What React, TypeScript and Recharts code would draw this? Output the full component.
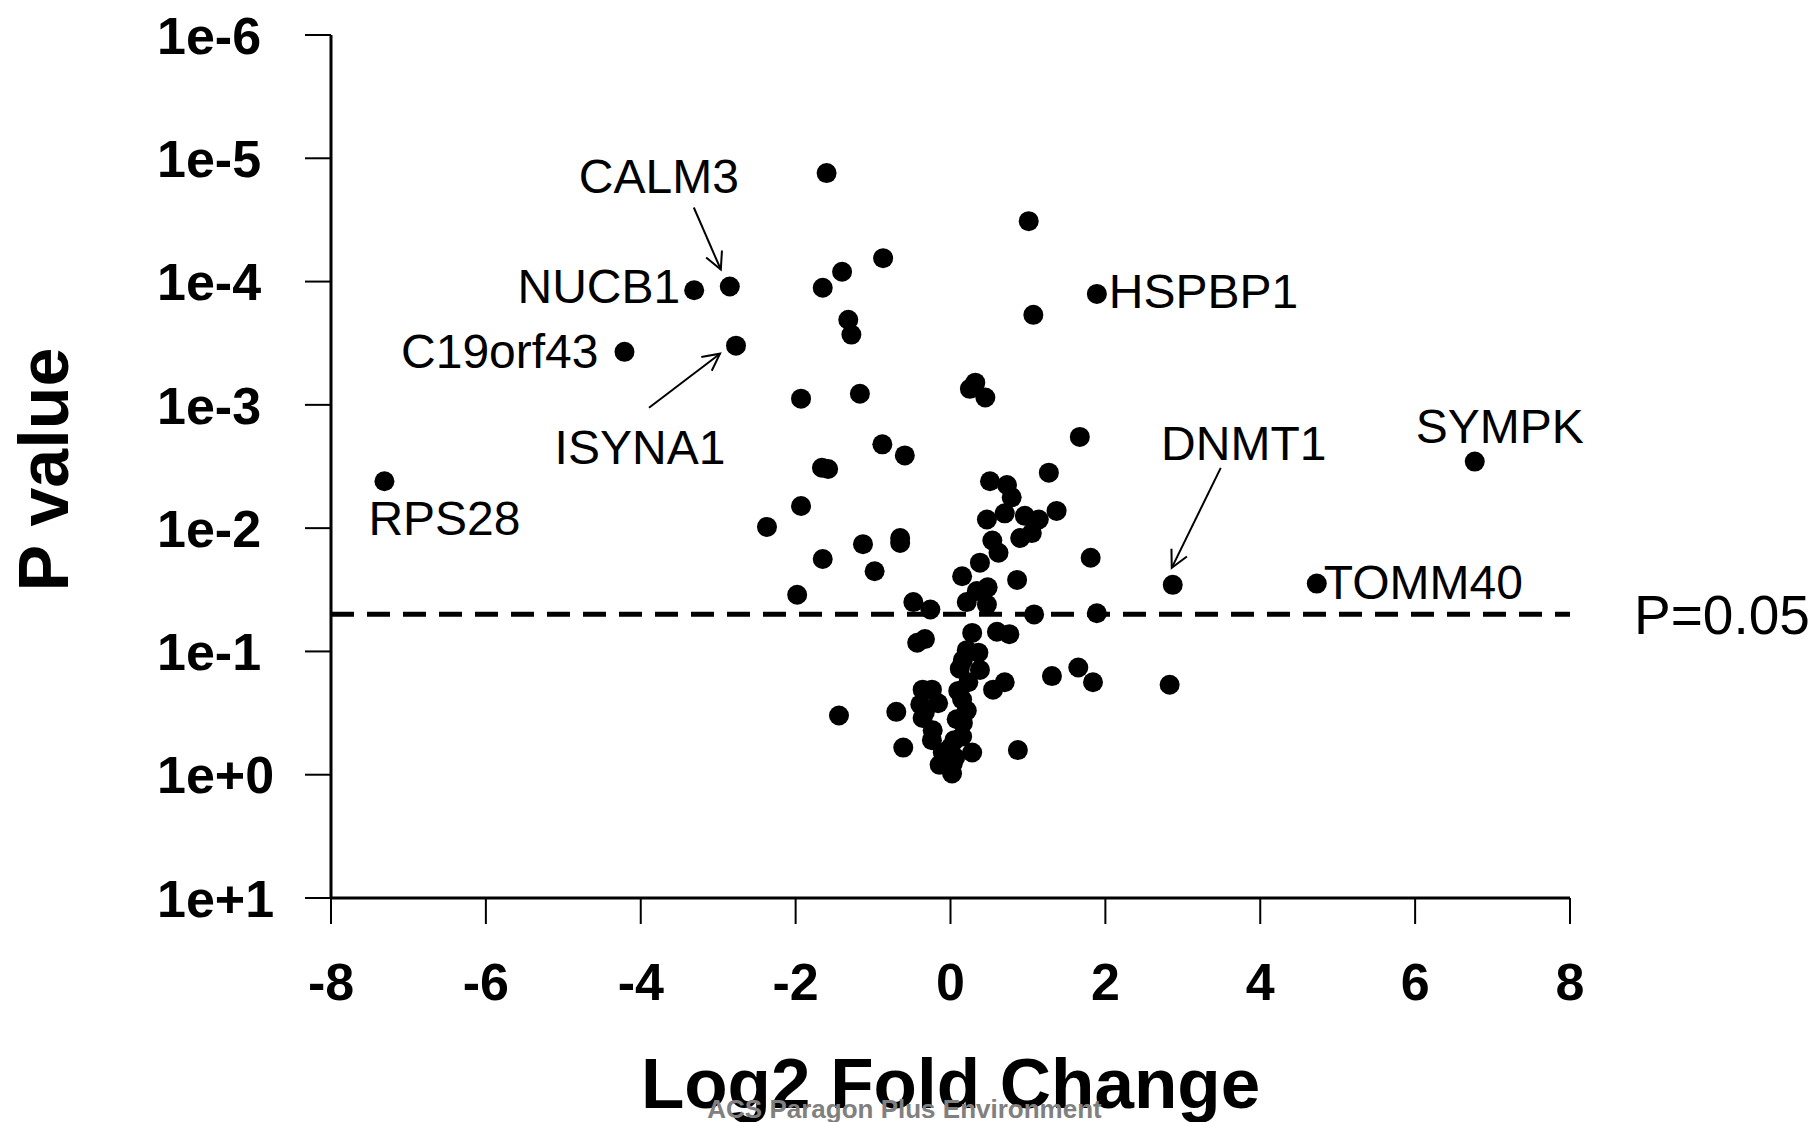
import { ScatterChart, Scatter, XAxis, YAxis, ReferenceLine } from "recharts";

// log2 fold change / -log10(p) for the unlabelled proteins
const log2FC = [
  -1.6, 1.01, -0.87, -1.4, -1.65, 1.07, -1.32, -1.28, 0.32, 0.25, 0.45, -1.93, -1.17, 1.67, -0.88, -0.59,
  -1.66, -1.58, 1.27, 0.51, 0.73, 0.79, 1.37, 0.7, -1.93, 0.47, 0.96, 1.14, -2.37, 1.05, 0.9, 0.54,
  -1.13, -0.65, -0.65, 0.62, -1.65, 1.81, 0.38, -0.98, 0.15, 0.86, 0.34, 0.48, -1.98, 0.21, 0.47, -0.48,
  -0.26, 1.08, 1.89, 0.28, 0.6, 0.76, -0.43, -0.33, 0.21, 0.36, 0.16, 0.38, 0.23, 0.7, 0.55, 1.31,
  1.65, 1.84, 2.83, -0.36, -0.24, -0.16, 0.15, 0.21, -0.33, -0.7, -1.44, -0.36, 0.16, -0.23, -0.24, 0.15,
  -0.61, 0.87, 0.28, -0.1, 0.06, -0.14, 0.02, 0.0, 0.03, -0.39, 0.12, 0.1, 0.08, 0.05,
];
const negLog10P = [
  4.88, 4.49, 4.19, 4.08, 3.95, 3.73, 3.69, 3.57, 3.18, 3.13, 3.06, 3.05, 3.09, 2.74, 2.68, 2.59,
  2.49, 2.48, 2.45, 2.38, 2.35, 2.25, 2.14, 2.12, 2.18, 2.07, 2.1, 2.07, 2.01, 1.96, 1.92, 1.9,
  1.87, 1.92, 1.88, 1.8, 1.75, 1.76, 1.72, 1.65, 1.61, 1.58, 1.49, 1.52, 1.46, 1.4, 1.38, 1.4,
  1.34, 1.3, 1.31, 1.15, 1.16, 1.14, 1.07, 1.1, 1.01, 0.99, 0.93, 0.85, 0.75, 0.75, 0.69, 0.8,
  0.87, 0.75, 0.73, 0.69, 0.69, 0.58, 0.61, 0.52, 0.51, 0.51, 0.48, 0.46, 0.42, 0.36, 0.28, 0.31,
  0.22, 0.2, 0.18, 0.18, 0.14, 0.08, 0.01, 0.22, 0.09, 0.57, 0.86, 0.68, 0.45, 0.28,
];

// named proteins
const genes = ["RPS28", "C19orf43", "NUCB1", "CALM3", "ISYNA1", "HSPBP1", "DNMT1", "TOMM40", "SYMPK"];
const geneLog2FC = [-7.31, -4.21, -3.31, -2.85, -2.77, 1.89, 2.87, 4.73, 6.77];
const geneNegLog10P = [2.38, 3.43, 3.93, 3.96, 3.48, 3.9, 1.54, 1.55, 2.54];

const xTicks = [-8, -6, -4, -2, 0, 2, 4, 6, 8];
const yTicks = [-1, 0, 1, 2, 3, 4, 5, 6];
const pCutoff = 0.05;

const FONT = "'Liberation Sans', Arial, Helvetica, sans-serif";

// label placement relative to its dot (px)
const labelLayout: Record<
  string,
  { dx: number; dy: number; anchor: "start" | "middle" | "end"; arrow?: [number, number, number, number] }
> = {
  RPS28: { dx: -16, dy: 54, anchor: "start" },
  C19orf43: { dx: -26, dy: 16, anchor: "end" },
  NUCB1: { dx: -14, dy: 13, anchor: "end" },
  CALM3: { dx: -71, dy: -94, anchor: "middle", arrow: [-36, -79, -9, -17] },
  ISYNA1: { dx: -96, dy: 118, anchor: "middle", arrow: [-87, 62, -16, 8] },
  HSPBP1: { dx: 12, dy: 14, anchor: "start" },
  DNMT1: { dx: 71, dy: -125, anchor: "middle", arrow: [48, -117, -1, -17] },
  TOMM40: { dx: 7, dy: 15, anchor: "start" },
  SYMPK: { dx: 25, dy: -19, anchor: "middle" },
};

const points = log2FC.map((x, i) => ({ x, y: negLog10P[i] }));
const labelled = genes.map((gene, i) => ({ gene, x: geneLog2FC[i], y: geneNegLog10P[i] }));

function fmtP(v: number) {
  return v > 0 ? `1e-${v}` : `1e+${-v}`;
}

const Dot = (p: any) => <circle cx={p.cx} cy={p.cy} r={10} fill="#000" />;

function arrowHead(x1: number, y1: number, x2: number, y2: number) {
  const len = Math.hypot(x2 - x1, y2 - y1);
  const ux = (x2 - x1) / len;
  const uy = (y2 - y1) / len;
  const L = 19;
  const a = (27 * Math.PI) / 180;
  const w1x = x2 - L * (ux * Math.cos(a) - uy * Math.sin(a));
  const w1y = y2 - L * (ux * Math.sin(a) + uy * Math.cos(a));
  const w2x = x2 - L * (ux * Math.cos(-a) - uy * Math.sin(-a));
  const w2y = y2 - L * (ux * Math.sin(-a) + uy * Math.cos(-a));
  return `${w1x},${w1y} ${x2},${y2} ${w2x},${w2y}`;
}

const LabelledDot = (p: any) => {
  const gene = p.payload?.gene ?? p.gene;
  const lay = labelLayout[gene];
  const { cx, cy } = p;
  return (
    <g>
      <circle cx={cx} cy={cy} r={10} fill="#000" />
      {lay && (
        <text
          x={cx + lay.dx}
          y={cy + lay.dy}
          textAnchor={lay.anchor}
          fontFamily={FONT}
          fontSize={48}
          fill="#000"
        >
          {gene}
        </text>
      )}
      {lay?.arrow && (
        <g stroke="#000" strokeWidth={2} fill="none">
          <line x1={cx + lay.arrow[0]} y1={cy + lay.arrow[1]} x2={cx + lay.arrow[2]} y2={cy + lay.arrow[3]} />
          <polyline
            points={arrowHead(cx + lay.arrow[0], cy + lay.arrow[1], cx + lay.arrow[2], cy + lay.arrow[3])}
          />
        </g>
      )}
    </g>
  );
};

// y tick labels are left-aligned in the original
const YTick = (p: any) => (
  <text
    x={p.x - 105}
    y={p.y}
    dy="0.36em"
    textAnchor="start"
    fontFamily={FONT}
    fontWeight="bold"
    fontSize={52}
    fill="#000"
  >
    {fmtP(p.payload.value)}
  </text>
);

const XTitle = (props: any) => {
  const vb = props.viewBox ?? { x: 331, y: 898, width: 1239, height: 224 };
  const cx = vb.x + vb.width / 2;
  const bottom = vb.y + vb.height;
  return (
    <g>
      <text x={cx} y={bottom - 14} textAnchor="middle" fontFamily={FONT} fontWeight="bold" fontSize={71} fill="#000">
        Log2 Fold Change
      </text>
      <text x={cx - 46} y={bottom - 4} textAnchor="middle" fontFamily={FONT} fontWeight="bold" fontSize={26} fill="#808080">
        ACS Paragon Plus Environment
      </text>
    </g>
  );
};

const YTitle = (props: any) => {
  const vb = props.viewBox ?? { x: 0, y: 35, width: 331, height: 863 };
  const cy = vb.y + vb.height / 2 + 3;
  const cx = 44;
  return (
    <text
      x={cx}
      y={cy}
      transform={`rotate(-90 ${cx} ${cy})`}
      textAnchor="middle"
      dominantBaseline="central"
      fontFamily={FONT}
      fontWeight="bold"
      fontSize={70}
      fill="#000"
    >
      P value
    </text>
  );
};

export default function App() {
  const tickStyle = { fontFamily: FONT, fontWeight: "bold" as const, fontSize: 52, fill: "#000" };
  return (
    <div style={{ position: "absolute", left: 0, top: 0, width: 1813, height: 1122, background: "#fff" }}>
      <ScatterChart width={1813} height={1122} margin={{ top: 35, right: 243, bottom: 0, left: 0 }}>
        <XAxis
          type="number"
          dataKey="x"
          domain={[-8, 8]}
          ticks={xTicks}
          height={224}
          tickSize={26}
          tickMargin={39}
          axisLine={{ stroke: "#000", strokeWidth: 3 }}
          tickLine={{ stroke: "#000", strokeWidth: 2 }}
          tick={tickStyle}
          label={(props: any) => <XTitle {...props} />}
        />
        <YAxis
          type="number"
          dataKey="y"
          domain={[-1, 6]}
          ticks={yTicks}
          width={331}
          tickSize={26}
          tickMargin={43}
          axisLine={{ stroke: "#000", strokeWidth: 3 }}
          tickLine={{ stroke: "#000", strokeWidth: 2 }}
          tick={YTick}
          label={(props: any) => <YTitle {...props} />}
        />
        <ReferenceLine
          y={-Math.log10(pCutoff)}
          stroke="#000"
          strokeWidth={5}
          strokeDasharray="23 13"
          label={{
            value: "P=0.05",
            position: "right",
            offset: 64,
            fontFamily: FONT,
            fontSize: 55,
            fill: "#000",
          }}
        />
        <Scatter data={points} shape={Dot} isAnimationActive={false} />
        <Scatter data={labelled} shape={LabelledDot} isAnimationActive={false} />
      </ScatterChart>
    </div>
  );
}
